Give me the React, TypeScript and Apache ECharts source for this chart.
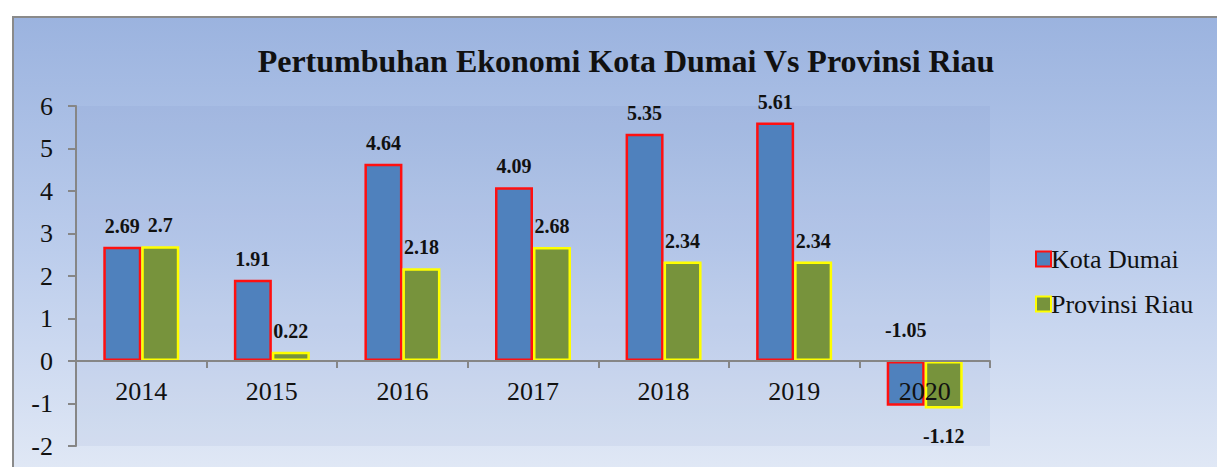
import React, { useEffect, useRef } from "react";
import * as echarts from "echarts";

const titleText = "Pertumbuhan Ekonomi Kota Dumai Vs Provinsi Riau";
const years = ["2014", "2015", "2016", "2017", "2018", "2019", "2020"];
const kotaDumai = [2.69, 1.91, 4.64, 4.09, 5.35, 5.61, -1.05];
const provinsiRiau = [2.7, 0.22, 2.18, 2.68, 2.34, 2.34, -1.12];
const seriesNames = ["Kota Dumai", "Provinsi Riau"];
const yMin = -2;
const yMax = 6;
const yStep = 1;

const serif = "'Liberation Serif', 'Times New Roman', serif";

function buildData(values: number[], negPos: string, negDist: number) {
  return values.map((v) =>
    v < 0
      ? { value: v, label: { position: negPos, distance: negDist } }
      : { value: v }
  );
}

export default function App() {
  const ref = useRef<HTMLDivElement>(null);
  useEffect(() => {
    document.body.style.margin = "0";
    const chart = echarts.init(ref.current!, null, { renderer: "svg" });
    const labelStyle = {
      show: true,
      position: "top",
      distance: 11,
      fontFamily: serif,
      fontWeight: "bold",
      fontSize: 20,
      color: "#111",
      formatter: (p: any) => String(p.value),
    };
    const gridTop = 106;
    const gridBottom = 21;
    const gridH = 467 - gridTop - gridBottom;
    const zeroOffset = (gridH * (0 - yMin)) / (yMax - yMin);
    chart.setOption({
      animation: false,
      backgroundColor: "#ffffff",
      graphic: {
        elements: [
          {
            type: "rect",
            z: -100,
            silent: true,
            shape: { x: 13, y: 17, width: 1220, height: 470 },
            style: {
              fill: new echarts.graphic.LinearGradient(0, 0, 0, 1, [
                { offset: 0, color: "#9bb3df" },
                { offset: 0.5, color: "#bccdec" },
                { offset: 1, color: "#e3eaf6" },
              ]),
              stroke: "#8a8a8a",
              lineWidth: 2,
            },
          },
        ],
      },
      title: {
        text: titleText,
        left: 621,
        textAlign: "center",
        top: 40,
        textStyle: {
          fontFamily: serif,
          fontWeight: "bold",
          fontSize: 32,
          color: "#111",
        },
      },
      legend: {
        orient: "vertical",
        left: 1030,
        top: 241,
        itemWidth: 15,
        itemHeight: 15,
        itemGap: 19,
        icon: "rect",
        textStyle: { fontFamily: serif, fontSize: 26, color: "#111", padding: [0, 0, 0, -5] },
        data: seriesNames,
      },
      grid: {
        left: 76,
        right: 227,
        top: gridTop,
        bottom: gridBottom,
        outerBoundsMode: "none",
        show: true,
        borderWidth: 0,
        backgroundColor: "rgba(90,120,180,0.07)",
      },
      xAxis: [
        {
          type: "category",
          data: years,
          axisLine: { onZero: true, lineStyle: { color: "#868686", width: 2 } },
          axisTick: { show: true, length: 7, lineStyle: { color: "#868686", width: 2 } },
          axisLabel: { show: false },
          z: 10,
        },
        {
          type: "category",
          data: years,
          position: "bottom",
          offset: -zeroOffset,
          axisLine: { show: false, onZero: false },
          axisTick: { show: false },
          axisLabel: { fontFamily: serif, fontSize: 26, color: "#111", margin: 17 },
          z: 10,
        },
      ],
      yAxis: {
        type: "value",
        min: yMin,
        max: yMax,
        interval: yStep,
        splitLine: { show: false },
        axisLine: { show: true, lineStyle: { color: "#868686", width: 2 } },
        axisTick: { show: true, length: 8, lineStyle: { color: "#868686", width: 2 } },
        axisLabel: { fontFamily: serif, fontSize: 26, color: "#111", margin: 23 },
      },
      series: [
        {
          name: seriesNames[0],
          type: "bar",
          data: buildData(kotaDumai, "top", 21),
          barWidth: 38,
          barGap: "0%",
          itemStyle: { color: "#4f81bd", borderColor: "#ff1010", borderWidth: 2.5 },
          label: labelStyle,
        },
        {
          name: seriesNames[1],
          type: "bar",
          data: buildData(provinsiRiau, "bottom", 17),
          barWidth: 38,
          barGap: "0%",
          itemStyle: { color: "#77933c", borderColor: "#ffff00", borderWidth: 2.5 },
          label: labelStyle,
        },
      ],
    });
    return () => chart.dispose();
  }, []);
  return <div ref={ref} style={{ width: 1217, height: 467 }} />;
}
